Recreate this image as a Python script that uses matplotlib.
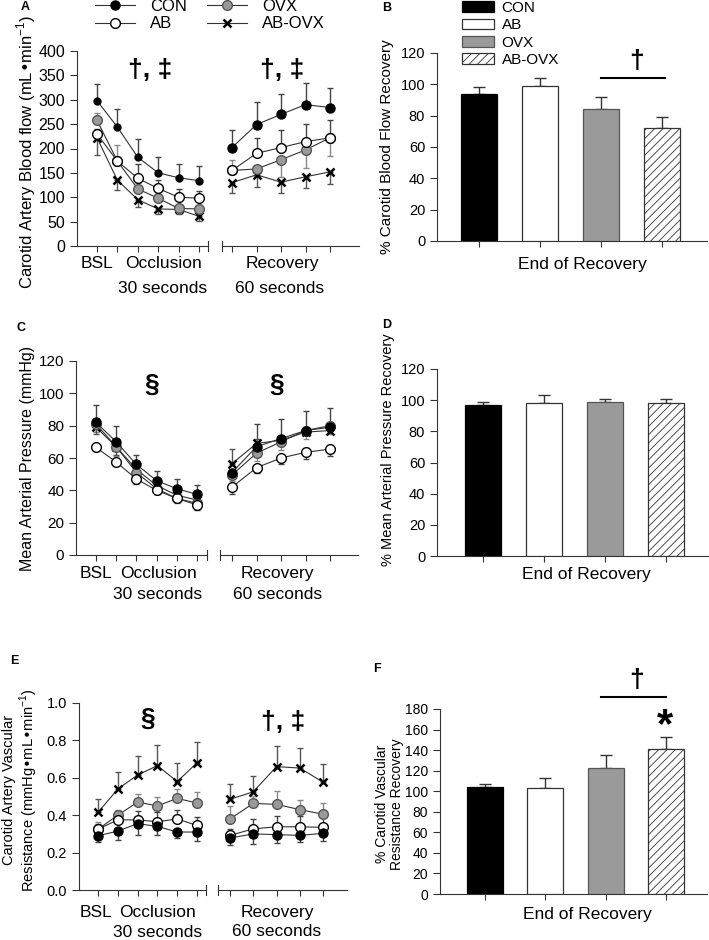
import matplotlib
matplotlib.use("Agg")
import matplotlib.pyplot as plt
import matplotlib.transforms as mtrans
from matplotlib.lines import Line2D
from matplotlib.patches import Patch
import numpy as np

plt.rcParams['font.family'] = ['Liberation Sans', 'DejaVu Sans']
plt.rcParams['hatch.linewidth'] = 0.6
plt.rcParams['axes.linewidth'] = 0.8

groups = ["CON", "AB", "OVX", "AB-OVX"]

# A: carotid blood flow (mL/min); rows = CON, AB, OVX, AB-OVX
# errors: + means bar drawn up, - means drawn down
cbf_occ = [[298, 244, 182, 150, 140, 134],
           [230, 174, 139, 118, 100, 98],
           [258, 174, 117, 98, 77, 76],
           [222, 135, 95, 76, 75, 61]]
cbf_occ_err = [[35, 38, 38, 32, 28, 30],
               [10, 0, 30, 18, 17, 14],
               [15, 33, 12, 12, 8, 8],
               [-35, -20, -14, -11, -9, -9]]
cbf_rec = [[202, 249, 270, 290, 284],
           [155, 190, 202, 214, 222],
           [155, 158, 177, 197, 222],
           [130, 146, 131, 142, 152]]
cbf_rec_err = [[36, 46, 42, 45, 41],
               [0, 31, 35, 36, 37],
               [21, -15, -36, -36, -38],
               [-21, -24, -22, -24, -24]]

# C: mean arterial pressure (mmHg)
map_occ = [[82, 70, 56, 46, 41, 37.5],
           [66.5, 57.5, 47, 40, 35, 31],
           [81, 67, 51, 41, 35, 32],
           [79, 67, 53, 43, 37, 34]]
map_occ_err = [[11, 10, 6, 6, 6, 6],
               [-2, -2, -3, -2, -2, -3],
               [-5, -6, -4, -3, -3, -3],
               [-4, -5, -4, -3, -3, -3]]
map_rec = [[51, 67, 72, 77, 79],
           [42, 54, 60, 63.5, 65.5],
           [49.5, 63, 70, 77, 80],
           [56.5, 69, 71, 76, 77]]
map_rec_err = [[0, 14, 12, 12, 12],
               [-4, -3, -4, -4, -4],
               [-4, -5, -5, -5, -5],
               [9, 3, 3, 3, 3]]

# E: carotid vascular resistance (mmHg/mL/min)
cvr_occ = [[0.29, 0.315, 0.355, 0.34, 0.31, 0.31],
           [0.325, 0.375, 0.375, 0.365, 0.38, 0.345],
           [0.325, 0.40, 0.47, 0.45, 0.49, 0.465],
           [0.415, 0.54, 0.615, 0.665, 0.58, 0.68]]
cvr_occ_err = [[-0.035, -0.045, -0.06, -0.045, -0.03, -0.05],
               [0.03, 0.05, 0.05, 0.05, 0.05, 0.045],
               [0.04, 0.03, 0.045, 0.045, 0.05, 0.06],
               [0.07, 0.09, 0.10, 0.11, 0.10, 0.11]]
cvr_rec = [[0.278, 0.30, 0.296, 0.292, 0.303],
           [0.292, 0.327, 0.338, 0.338, 0.335],
           [0.38, 0.463, 0.458, 0.43, 0.405],
           [0.485, 0.525, 0.66, 0.652, 0.577]]
cvr_rec_err = [[-0.04, -0.055, -0.045, -0.035, -0.04],
               [0.035, 0.055, 0.06, 0.06, 0.055],
               [0.07, 0.04, 0.07, 0.05, 0.06],
               [0.08, 0.085, 0.11, 0.11, 0.095]]

# B, D, F: % recovery at end of recovery
cbf_pct = [94, 99, 84, 72]
cbf_pct_err = [4, 5, 8, 7]
map_pct = [97, 98, 99, 98]
map_pct_err = [2, 5, 2, 3]
cvr_pct = [104, 103, 123, 141]
cvr_pct_err = [3, 10, 12, 12]

W, H = 709, 940
fig = plt.figure(figsize=(W / 100, H / 100), dpi=100)


def px_axes(l, r, t, b):
    return fig.add_axes([l / W, 1 - b / H, (r - l) / W, (b - t) / H])


line_style = {
    "CON": dict(marker='o', mfc='black', mec='black', ms=6.5),
    "AB": dict(marker='o', mfc='white', mec='black', ms=7),
    "OVX": dict(marker='o', mfc='#9a9a9a', mec='#555555', ms=7),
    "AB-OVX": dict(marker='x', mfc='black', mec='black', ms=5.5, mew=1.8),
}
err_color = {"CON": '#444444', "AB": '#444444', "OVX": '#8a8a8a', "AB-OVX": '#555555'}


def draw_series(ax, vals, errs, con_ms=None):
    for i, g in enumerate(groups):
        v = np.array(vals[i], dtype=float)
        e = np.array(errs[i], dtype=float)
        x = np.arange(len(v))
        lo = np.where(e < 0, -e, 0)
        hi = np.where(e > 0, e, 0)
        ax.errorbar(x, v, yerr=[lo, hi], fmt='none', ecolor=err_color[g],
                    elinewidth=1.0, capsize=2.5, capthick=1.0, zorder=2)
    for i, g in reversed(list(enumerate(groups))):
        st = dict(line_style[g])
        if g == "CON" and con_ms:
            st['ms'] = con_ms
        ax.plot(np.arange(len(vals[i])), vals[i], color='#333333', lw=0.8,
                zorder=3 + (3 - i) * 0.1, **st)


def style_axes(ax, ylim, yticks, ytick_fs):
    ax.set_ylim(*ylim)
    ax.spines['top'].set_visible(False)
    ax.spines['right'].set_visible(False)
    for s in ax.spines.values():
        s.set_color('#333333')
    ax.set_yticks(yticks)
    ax.tick_params(axis='y', direction='out', length=5, width=0.8,
                   labelsize=ytick_fs, colors='#333333', labelcolor='black')
    ax.tick_params(axis='x', direction='out', length=4, width=0.8,
                   labelbottom=False, colors='#333333')


def under_text(ax, txt, xd, dy, fs=12.5):
    # text placed below an axes at data x, dy pixels under the bottom spine
    tr = mtrans.blended_transform_factory(ax.transData, ax.transAxes)
    ax.annotate(txt, xy=(xd, 0), xycoords=tr, xytext=(0, -dy * 0.72),
                textcoords='offset points', ha='center', va='baseline',
                fontsize=fs, annotation_clip=False)


def line_panel(geo, occ, occ_err, rec, rec_err, ylim, yticks, yfmt, ytick_fs,
               con_ms=None):
    t, b = geo['t'], geo['b']
    axl = px_axes(geo['l0'], geo['l1'], t, b)
    axr = px_axes(geo['r0'], geo['r1'], t, b)
    x0, s = geo['xl']
    axl.set_xlim((geo['l0'] - x0) / s, (geo['l1'] - x0) / s)
    x0, s = geo['xr']
    axr.set_xlim((geo['r0'] - x0) / s, (geo['r1'] - x0) / s)
    draw_series(axl, occ, occ_err, con_ms)
    draw_series(axr, rec, rec_err)
    for ax, n in ((axl, 6), (axr, 5)):
        style_axes(ax, ylim, yticks, ytick_fs)
        ax.set_xticks(range(n))
    axl.set_yticklabels([yfmt.format(v) for v in yticks])
    axr.spines['left'].set_visible(False)
    axr.tick_params(axis='y', left=False, labelleft=False)
    # break marks
    axl.plot([1, 1], [-0.025, 0.025], transform=axl.transAxes, clip_on=False,
             color='#333333', lw=0.8)
    axr.plot([0, 0], [-0.025, 0.025], transform=axr.transAxes, clip_on=False,
             color='#333333', lw=0.8)
    return axl, axr


def bar_panel(geo, vals, errs, ylim, yticks, ytick_fs):
    ax = px_axes(geo['l'], geo['r'], geo['t'], geo['b'])
    x0, s = geo['x']
    ax.set_xlim((geo['l'] - x0) / s, (geo['r'] - x0) / s)
    x = np.arange(len(vals))
    bars = ax.bar(x, vals, width=0.6,
                  color=['black', 'white', '#9a9a9a', 'white'],
                  edgecolor=['black', '#333333', '#555555', '#333333'],
                  linewidth=0.9, zorder=3)
    bars[3].set_hatch('////')
    ax.errorbar(x, vals, yerr=[np.zeros(len(vals)), errs], fmt='none',
                ecolor='#333333', elinewidth=1.0, capsize=4.5, capthick=1.0,
                zorder=2)
    style_axes(ax, ylim, yticks, ytick_fs)
    ax.set_xticks(x)
    tr = mtrans.blended_transform_factory(ax.transData, ax.transAxes)
    ax.annotate("End of Recovery", xy=(1.69, 0), xycoords=tr,
                xytext=(0, -geo['lab'] * 0.72), textcoords='offset points',
                ha='center', va='center', fontsize=12.5, annotation_clip=False)
    return ax, bars


sig_kw = dict(ha='center', va='center', fontsize=19, fontweight='bold')

# ---------- A ----------
geoA = dict(l0=77, l1=208, r0=222, r1=359, t=51, b=246,
            xl=(97, 20.4), xr=(232, 24.5))
A_l, A_r = line_panel(geoA, cbf_occ, cbf_occ_err, cbf_rec, cbf_rec_err,
                      (0, 400), range(0, 401, 50), "{:d}", 11.5, con_ms=5)
under_text(A_l, "BSL", 0, 22)
under_text(A_l, "Occlusion", 3.25, 22)
under_text(A_l, "30 seconds", 3.2, 47)
under_text(A_r, "Recovery", 2.04, 22)
under_text(A_r, "60 seconds", 1.96, 47)
A_l.text(2.6, 362, "†, ‡", **sig_kw)
A_r.text(2.05, 362, "†, ‡", **sig_kw)
A_l.set_ylabel(r"Carotid Artery Blood flow (mL•min$^{\mathregular{-1}}$)", fontsize=12)
A_l.yaxis.set_label_coords(38 / W, 1 - 152 / H, transform=fig.transFigure)

handles = [Line2D([], [], color='#333333', lw=0.8, **line_style[g]) for g in groups]
fig.legend(handles, groups, ncol=2, loc='upper left',
           bbox_to_anchor=(95 / W, 1 + 1 / H), frameon=False, fontsize=12,
           handlelength=2.4, handletextpad=0.9, columnspacing=1.2,
           labelspacing=0.15, borderpad=0.0, borderaxespad=0.0)

# ---------- B ----------
geoB = dict(l=437, r=707, t=53, b=241, x=(479, 61), lab=24)
B, barsB = bar_panel(geoB, cbf_pct, cbf_pct_err, (0, 120), range(0, 121, 20), 10.5)
B.plot([2, 3.05], [104, 104], color='black', lw=1.5, clip_on=False)
B.text(2.59, 115, "†", **sig_kw)
B.set_ylabel("% Carotid Blood Flow Recovery", fontsize=11)
B.yaxis.set_label_coords(394 / W, 1 - 147 / H, transform=fig.transFigure)
leg_handles = [Patch(facecolor=b.get_facecolor(), edgecolor=b.get_edgecolor(),
                     hatch=b.get_hatch(), linewidth=0.9) for b in barsB]
fig.legend(leg_handles, groups, loc='upper left', bbox_to_anchor=(462 / W, 1 - 1 / H),
           frameon=False, fontsize=11, handlelength=2.1, handleheight=0.7,
           handletextpad=0.5, labelspacing=0.22, borderpad=0.0, borderaxespad=0.0)

# ---------- C ----------
geoC = dict(l0=76, l1=207, r0=220, r1=358, t=361, b=555,
            xl=(96, 20.2), xr=(232, 24.5))
C_l, C_r = line_panel(geoC, map_occ, map_occ_err, map_rec, map_rec_err,
                      (0, 120), range(0, 121, 20), "{:d}", 11)
under_text(C_l, "BSL", 0, 23)
under_text(C_l, "Occlusion", 3.07, 23)
under_text(C_l, "30 seconds", 3.07, 44)
under_text(C_r, "Recovery", 1.84, 23)
under_text(C_r, "60 seconds", 1.84, 44)
C_l.text(2.77, 105, "§", **sig_kw)
C_r.text(1.84, 105, "§", **sig_kw)
C_l.set_ylabel("Mean Arterial Pressure (mmHg)", fontsize=11.5)
C_l.yaxis.set_label_coords(35 / W, 1 - 458 / H, transform=fig.transFigure)

# ---------- D ----------
geoD = dict(l=437, r=709, t=369, b=556, x=(483, 61), lab=18)
D, _ = bar_panel(geoD, map_pct, map_pct_err, (0, 120), range(0, 121, 20), 10.5)
D.set_ylabel("% Mean Arterial Pressure Recovery", fontsize=10.5)
D.yaxis.set_label_coords(395 / W, 1 - 450 / H, transform=fig.transFigure)

# ---------- E ----------
geoE = dict(l0=79, l1=206, r0=218, r1=347, t=703, b=890,
            xl=(98, 19.8), xr=(230, 23.25))
E_l, E_r = line_panel(geoE, cvr_occ, cvr_occ_err, cvr_rec, cvr_rec_err,
                      (0, 1.0), np.arange(0, 1.01, 0.2), "{:.1f}", 10.5)
under_text(E_l, "BSL", -0.1, 27)
under_text(E_l, "Occlusion", 3.03, 27)
under_text(E_l, "30 seconds", 3.03, 47)
under_text(E_r, "Recovery", 2.02, 27)
under_text(E_r, "60 seconds", 2.02, 46)
E_l.text(2.5, 0.915, "§", **sig_kw)
E_r.text(2.3, 0.90, "†, ‡", **sig_kw)
E_l.set_ylabel("Carotid Artery Vascular\n" + r"Resistance (mmHg•mL•min$^{\mathregular{-1}}$)",
               fontsize=10.5, linespacing=1.1)
E_l.yaxis.set_label_coords(40 / W, 1 - 790 / H, transform=fig.transFigure)

# ---------- F ----------
geoF = dict(l=440, r=707, t=709, b=894, x=(485, 60.3), lab=20)
F, _ = bar_panel(geoF, cvr_pct, cvr_pct_err, (0, 180), range(0, 181, 20), 10)
F.plot([1.92, 3.0], [192, 192], color='black', lw=1.5, clip_on=False)
F.text(2.52, 208, "†", clip_on=False, **sig_kw)
F.text(2.99, 163, "*", ha='center', va='center', fontsize=30, fontweight='bold',
       clip_on=False)
F.set_ylabel("% Carotid Vascular\nResistance Recovery", fontsize=10, linespacing=1.1)
F.yaxis.set_label_coords(404 / W, 1 - 804 / H, transform=fig.transFigure)

# panel letters
for lab, x, y in [("A", 25, 7), ("B", 387, 8), ("C", 21, 328), ("D", 387, 325),
                  ("E", 14, 661), ("F", 377, 669)]:
    fig.text(x / W, 1 - y / H, lab, ha='center', va='center', fontsize=9,
             fontweight='bold')

fig.savefig("out.png", dpi=100)
